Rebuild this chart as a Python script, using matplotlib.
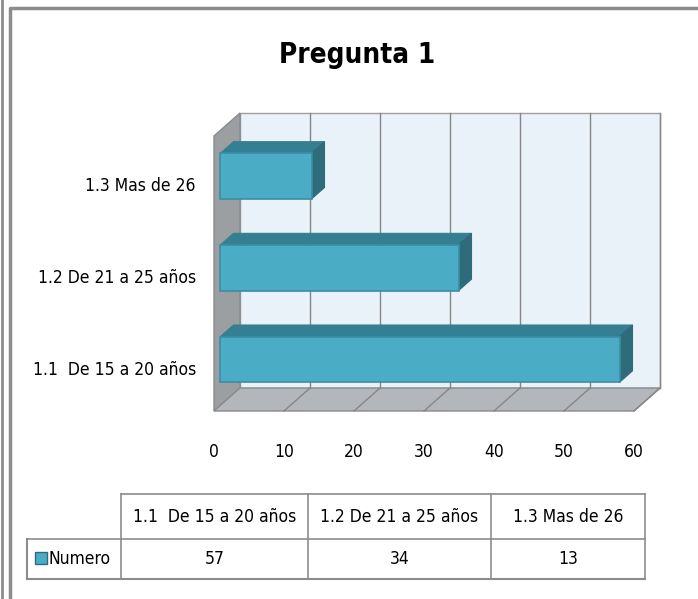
import matplotlib
matplotlib.use("Agg")
import matplotlib.pyplot as plt
from matplotlib.patches import Polygon, Rectangle
from matplotlib.lines import Line2D
from matplotlib.transforms import ScaledTranslation

plt.rcParams['font.family'] = ['DejaVu Sans']
plt.rcParams['font.stretch'] = 'condensed'

# data
categories = ["1.1  De 15 a 20 años", "1.2 De 21 a 25 años", "1.3 Mas de 26"]
values = [57, 34, 13]
series_name = "Numero"
title = "Pregunta 1"
x_ticks = [0, 10, 20, 30, 40, 50, 60]

# colours
wall_c = "#e9f2f8"
side_c = "#9c9fa2"
floor_c = "#b3b7bb"
grid_c = "#868686"
bar_front = "#4bacc6"
bar_top = "#357f93"
bar_side = "#2e6b7b"
bar_edge = "#3a8ea6"
fs = 12.5

W, H = 698, 599
fig = plt.figure(figsize=(W / 100, H / 100), dpi=100)

# pixel overlay for frame + data table
over = fig.add_axes([0, 0, 1, 1])
over.set_xlim(0, W)
over.set_ylim(H, 0)
over.axis("off")

over.add_line(Line2D([1.5, 1.5], [0, H], color="#8c8c8c", lw=2))
over.add_line(Line2D([10, 10, W], [H, 8, 8], color="#8c8c8c", lw=2.5))

# main axes = back wall of the pseudo 3d chart
ax = fig.add_axes([240 / W, (H - 388) / H, 420 / W, 275 / H])
ax.set_xlim(0, 60)
ax.set_ylim(-0.5, 2.5)
ax.patch.set_visible(False)
for s in ax.spines.values():
    s.set_visible(False)

# depth offset (back -> front) in data units
dx = 26 / 7.0
dy = 23 / (275 / 3.0)


def pt(x, y, f):
    return (x - f * dx, y - f * dy)


def poly(pts, **kw):
    p = Polygon(pts, closed=True, clip_on=False, **kw)
    ax.add_patch(p)
    return p


y0, y1 = -0.5, 2.5
poly([pt(0, y0, 0), pt(60, y0, 0), pt(60, y1, 0), pt(0, y1, 0)],
     facecolor=wall_c, edgecolor="#a0a0a0", lw=1, zorder=1)
poly([pt(0, y0, 0), pt(0, y1, 0), pt(0, y1, 1), pt(0, y0, 1)],
     facecolor=side_c, edgecolor="#8a8a8a", lw=1, zorder=2)
poly([pt(0, y0, 0), pt(60, y0, 0), pt(60, y0, 1), pt(0, y0, 1)],
     facecolor=floor_c, edgecolor="#8a8a8a", lw=1, zorder=2)

for t in x_ticks[1:]:
    ax.plot([t, t], [y0, y1], color=grid_c, lw=1, zorder=3, clip_on=False)
    a, b = pt(t, y0, 0), pt(t, y0, 1)
    ax.plot([a[0], b[0]], [a[1], b[1]], color=grid_c, lw=1, zorder=3, clip_on=False)

# bars
bh = 0.25
for i, v in enumerate(values):
    yb, yt = i - bh, i + bh
    poly([pt(0, yt, 0.75), pt(v, yt, 0.75), pt(v, yt, 0.25), pt(0, yt, 0.25)],
         facecolor=bar_top, edgecolor=bar_top, lw=0.8, zorder=5)
    poly([pt(v, yb, 0.75), pt(v, yb, 0.25), pt(v, yt, 0.25), pt(v, yt, 0.75)],
         facecolor=bar_side, edgecolor=bar_side, lw=0.8, zorder=5)
    poly([pt(0, yb, 0.75), pt(v, yb, 0.75), pt(v, yt, 0.75), pt(0, yt, 0.75)],
         facecolor=bar_front, edgecolor=bar_edge, lw=1.2, zorder=6)

# ticks placed on the front plane
front_x = ScaledTranslation(-0.26, -0.23, fig.dpi_scale_trans)
front_y = ScaledTranslation(-0.26, -0.255, fig.dpi_scale_trans)
ax.set_xticks(x_ticks)
ax.set_xticklabels([str(t) for t in x_ticks], fontsize=fs)
ax.set_yticks(range(len(categories)))
ax.set_yticklabels(categories, fontsize=fs)
ax.tick_params(length=0)
ax.tick_params(axis="x", pad=23)
ax.tick_params(axis="y", pad=13)
for lab in ax.get_xticklabels():
    lab.set_transform(lab.get_transform() + front_x)
for lab in ax.get_yticklabels():
    lab.set_transform(lab.get_transform() + front_y)

fig.text(357 / W, 1 - 55 / H, title, ha="center", va="center",
         fontsize=20, fontweight="bold")

# data table
cols = [121, 308, 491, 645]
tab_l = 27
r0, r1, r2 = 494, 539, 579
lc = "#8c8c8c"
over.add_line(Line2D([cols[0], cols[-1]], [r0, r0], color=lc, lw=1.2))
over.add_line(Line2D([tab_l, cols[-1]], [r1, r1], color=lc, lw=1.2))
over.add_line(Line2D([tab_l, cols[-1]], [r2, r2], color=lc, lw=1.5))
over.add_line(Line2D([tab_l, tab_l], [r1, r2], color=lc, lw=1.5))
for c in cols:
    over.add_line(Line2D([c, c], [r0, r2], color=lc, lw=1.2))

for j, (cat, v) in enumerate(zip(categories, values)):
    cx = (cols[j] + cols[j + 1]) / 2
    over.text(cx, (r0 + r1) / 2, cat, ha="center", va="center", fontsize=fs)
    over.text(cx, (r1 + r2) / 2, str(v), ha="center", va="center", fontsize=fs)

over.add_patch(Rectangle((35, 552), 12, 12, facecolor=bar_front, edgecolor="#2e6b7b", lw=1))
over.text(49, (r1 + r2) / 2, series_name, ha="left", va="center", fontsize=fs)

fig.savefig("out.png", dpi=100)
